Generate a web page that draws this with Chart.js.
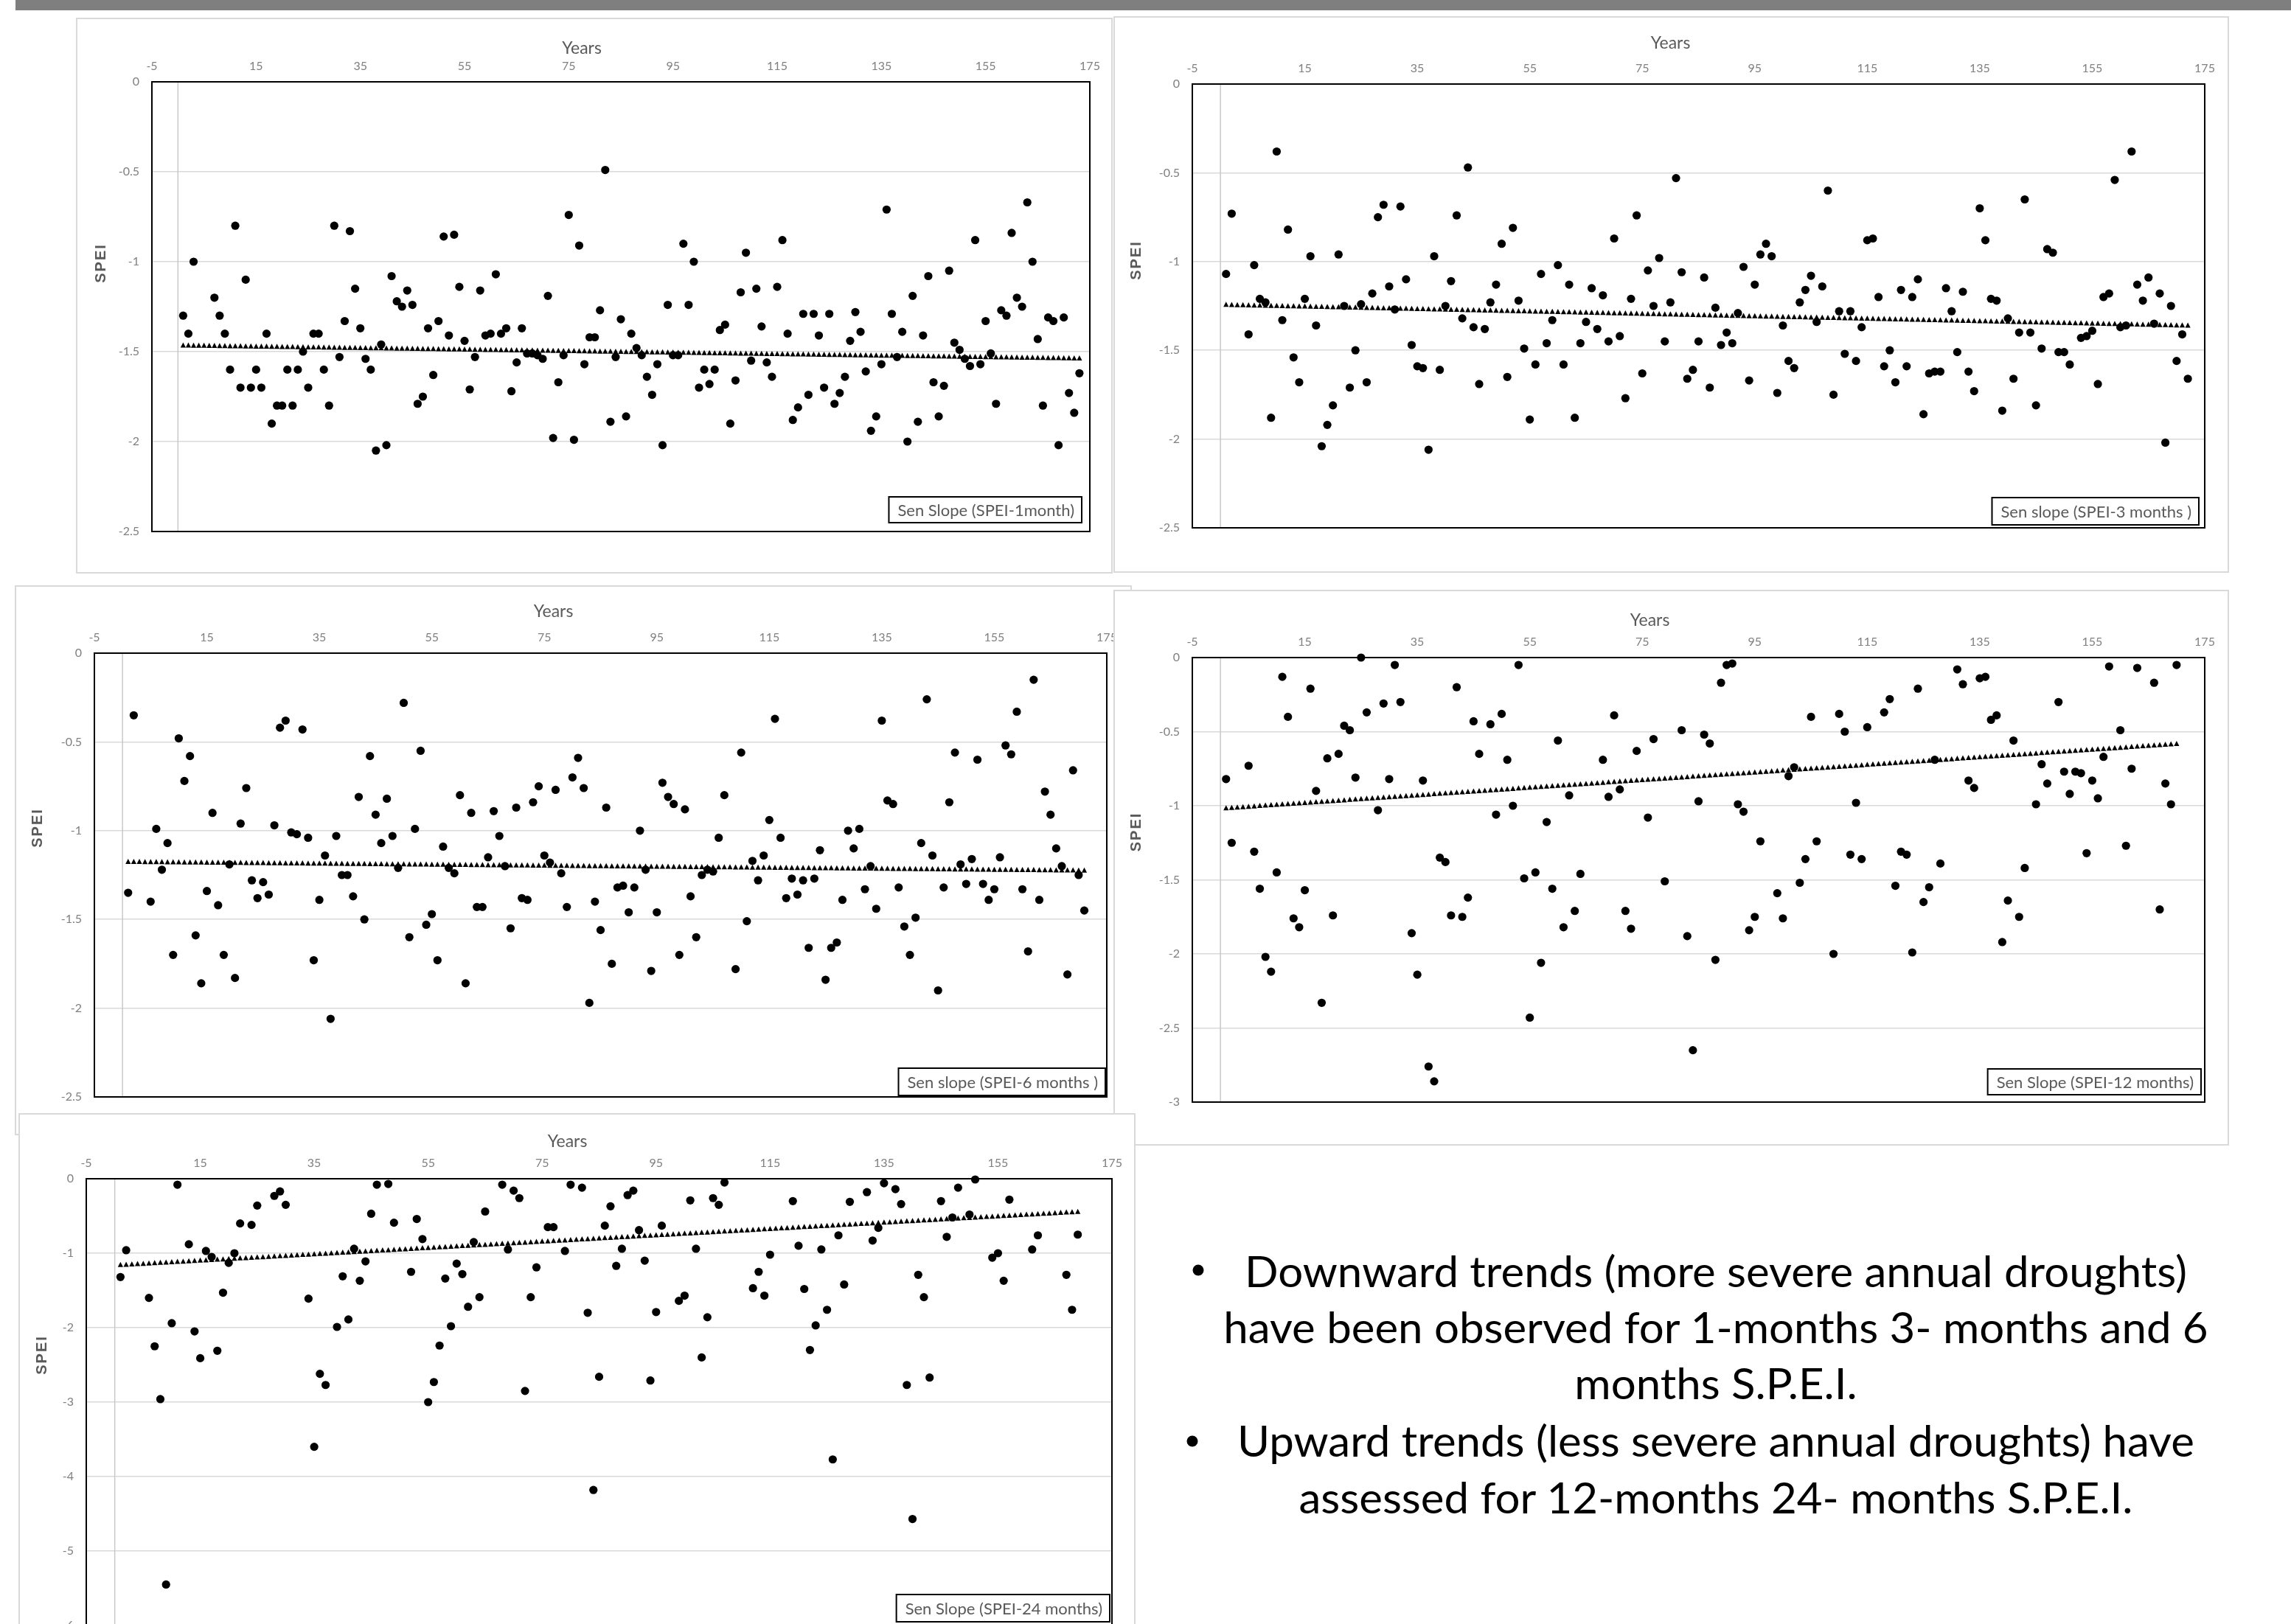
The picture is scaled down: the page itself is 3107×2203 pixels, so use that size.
<!DOCTYPE html>
<html>
<head>
<meta charset="utf-8">
<script src="https://cdn.jsdelivr.net/npm/chart.js@4.4.1/dist/chart.umd.min.js"></script>
<style>
  html, body { margin:0; padding:0; background:#fff; }
  body { width:3107px; height:2203px; overflow:hidden; position:relative; font-family:Lato, "Noto Sans", sans-serif; }
  .topbar { position:absolute; left:21px; top:0; width:3086px; height:14px; background:#7f7f7f; }
  .frame { position:absolute; background:#fff; box-shadow:inset 0 0 0 2px #d9d9d9; }
  .frame canvas { position:absolute; left:0; top:0; }
  .line { position:absolute; left:1577px; width:1500px; text-align:center; font-family:Lato, sans-serif; font-size:58px; line-height:80px; color:#000; white-space:nowrap; transform-origin:750px 40px; }
  .bullet { position:absolute; width:15px; height:15px; border-radius:50%; background:#000; transform:translate(-50%,-50%); }
</style>
</head>
<body>
<div class="topbar"></div>

<div class="frame" id="f1" style="left:103px;top:24px;width:1406px;height:754px;z-index:1"><canvas id="c1" width="1406" height="754"></canvas></div>
<div class="frame" id="f2" style="left:1510px;top:22px;width:1513px;height:755px;z-index:2"><canvas id="c2" width="1513" height="755"></canvas></div>
<div class="frame" id="f3" style="left:20px;top:794px;width:1515px;height:746px;z-index:3"><canvas id="c3" width="1515" height="746"></canvas></div>
<div class="frame" id="f4" style="left:1510px;top:800px;width:1513px;height:754px;z-index:4"><canvas id="c4" width="1513" height="754"></canvas></div>
<div class="frame" id="f5" style="left:25px;top:1510px;width:1515px;height:750px;z-index:5"><canvas id="c5" width="1515" height="750"></canvas></div>

<div class="bullet" style="left:1625px;top:1723px"></div>
<div class="line" style="top:1684px">Downward trends (more severe annual droughts)</div>
<div class="line" style="top:1760px">have been observed for 1-months 3- months and 6</div>
<div class="line" style="top:1836px">months S.P.E.I.</div>
<div class="bullet" style="left:1617px;top:1955px"></div>
<div class="line" style="top:1914px">Upward trends (less severe annual droughts) have</div>
<div class="line" style="top:1991px">assessed for 12-months 24- months S.P.E.I.</div>

<script>
// ---------- tick labels / titles ----------
const xTicks = [-5, 15, 35, 55, 75, 95, 115, 135, 155, 175];
const yTicksA = [0, -0.5, -1, -1.5, -2, -2.5];
const yTicksB = [0, -0.5, -1, -1.5, -2, -2.5, -3];
const yTicksC = [0, -1, -2, -3, -4, -5, -6];
const xTitle = 'Years';
const yTitle = 'SPEI';

// ---------- series: [year, SPEI] ----------
const spei1 = [[1,-1.30],[2,-1.40],[3,-1.00],[7,-1.20],[8,-1.30],[9,-1.40],[10,-1.60],
[11,-0.80],[12,-1.70],[13,-1.10],[14,-1.70],[15,-1.60],[16,-1.70],[17,-1.40],[18,-1.90],[19,-1.80],[20,-1.80],
[21,-1.60],[22,-1.80],[23,-1.60],[24,-1.50],[25,-1.70],[26,-1.40],[27,-1.40],[28,-1.60],[29,-1.80],[30,-0.80],
[31,-1.53],[32,-1.33],[33,-0.83],[34,-1.15],[35,-1.37],[36,-1.54],[37,-1.60],[38,-2.05],[39,-1.46],[40,-2.02],
[41,-1.08],[42,-1.22],[43,-1.25],[44,-1.16],[45,-1.24],[46,-1.79],[47,-1.75],[48,-1.37],[49,-1.63],[50,-1.33],
[51,-0.86],[52,-1.41],[53,-0.85],[54,-1.14],[55,-1.44],[56,-1.71],[57,-1.53],[58,-1.16],[59,-1.41],[60,-1.40],
[61,-1.07],[62,-1.40],[63,-1.37],[64,-1.72],[65,-1.56],[66,-1.37],[67,-1.51],[68,-1.51],[69,-1.52],[70,-1.54],
[71,-1.19],[72,-1.98],[73,-1.67],[74,-1.52],[75,-0.74],[76,-1.99],[77,-0.91],[78,-1.57],[79,-1.42],[80,-1.42],
[81,-1.27],[82,-0.49],[83,-1.89],[84,-1.53],[85,-1.32],[86,-1.86],[87,-1.40],[88,-1.48],[89,-1.52],[90,-1.64],
[91,-1.74],[92,-1.57],[93,-2.02],[94,-1.24],[95,-1.52],[96,-1.52],[97,-0.90],[98,-1.24],[99,-1.00],[100,-1.70],
[101,-1.60],[102,-1.68],[103,-1.60],[104,-1.38],[105,-1.35],[106,-1.90],[107,-1.66],[108,-1.17],[109,-0.95],[110,-1.55],
[111,-1.15],[112,-1.36],[113,-1.56],[114,-1.64],[115,-1.14],[116,-0.88],[117,-1.40],[118,-1.88],[119,-1.81],[120,-1.29],
[121,-1.74],[122,-1.29],[123,-1.41],[124,-1.70],[125,-1.29],[126,-1.79],[127,-1.73],[128,-1.64],[129,-1.44],[130,-1.28],
[131,-1.39],[132,-1.61],[133,-1.94],[134,-1.86],[135,-1.57],[136,-0.71],[137,-1.29],[138,-1.53],[139,-1.39],[140,-2.00],
[141,-1.19],[142,-1.89],[143,-1.41],[144,-1.08],[145,-1.67],[146,-1.86],[147,-1.69],[148,-1.05],[149,-1.45],[150,-1.49],
[151,-1.54],[152,-1.58],[153,-0.88],[154,-1.57],[155,-1.33],[156,-1.51],[157,-1.79],[158,-1.27],[159,-1.30],[160,-0.84],
[161,-1.20],[162,-1.25],[163,-0.67],[164,-1.00],[165,-1.43],[166,-1.80],[167,-1.31],[168,-1.33],[169,-2.02],[170,-1.31],
[171,-1.73],[172,-1.84],[173,-1.62]];

const spei3 = [[1,-1.07],[2,-0.73],[5,-1.41],[6,-1.02],[7,-1.21],[8,-1.23],[9,-1.88],[10,-0.38],
[11,-1.33],[12,-0.82],[13,-1.54],[14,-1.68],[15,-1.21],[16,-0.97],[17,-1.36],[18,-2.04],[19,-1.92],[20,-1.81],
[21,-0.96],[22,-1.25],[23,-1.71],[24,-1.50],[25,-1.24],[26,-1.68],[27,-1.18],[28,-0.75],[29,-0.68],[30,-1.14],
[31,-1.27],[32,-0.69],[33,-1.10],[34,-1.47],[35,-1.59],[36,-1.60],[37,-2.06],[38,-0.97],[39,-1.61],[40,-1.25],
[41,-1.11],[42,-0.74],[43,-1.32],[44,-0.47],[45,-1.37],[46,-1.69],[47,-1.38],[48,-1.23],[49,-1.13],[50,-0.90],
[51,-1.65],[52,-0.81],[53,-1.22],[54,-1.49],[55,-1.89],[56,-1.58],[57,-1.07],[58,-1.46],[59,-1.33],[60,-1.02],
[61,-1.58],[62,-1.13],[63,-1.88],[64,-1.46],[65,-1.34],[66,-1.15],[67,-1.38],[68,-1.19],[69,-1.45],[70,-0.87],
[71,-1.42],[72,-1.77],[73,-1.21],[74,-0.74],[75,-1.63],[76,-1.05],[77,-1.25],[78,-0.98],[79,-1.45],[80,-1.23],
[81,-0.53],[82,-1.06],[83,-1.66],[84,-1.61],[85,-1.45],[86,-1.09],[87,-1.71],[88,-1.26],[89,-1.47],[90,-1.40],
[91,-1.46],[92,-1.29],[93,-1.03],[94,-1.67],[95,-1.13],[96,-0.96],[97,-0.90],[98,-0.97],[99,-1.74],[100,-1.36],
[101,-1.56],[102,-1.60],[103,-1.23],[104,-1.16],[105,-1.08],[106,-1.34],[107,-1.14],[108,-0.60],[109,-1.75],[110,-1.28],
[111,-1.52],[112,-1.28],[113,-1.56],[114,-1.37],[115,-0.88],[116,-0.87],[117,-1.20],[118,-1.59],[119,-1.50],[120,-1.68],
[121,-1.16],[122,-1.59],[123,-1.20],[124,-1.10],[125,-1.86],[126,-1.63],[127,-1.62],[128,-1.62],[129,-1.15],[130,-1.28],
[131,-1.51],[132,-1.17],[133,-1.62],[134,-1.73],[135,-0.70],[136,-0.88],[137,-1.21],[138,-1.22],[139,-1.84],[140,-1.32],
[141,-1.66],[142,-1.40],[143,-0.65],[144,-1.40],[145,-1.81],[146,-1.49],[147,-0.93],[148,-0.95],[149,-1.51],[150,-1.51],
[151,-1.58],[153,-1.43],[154,-1.42],[155,-1.39],[156,-1.69],[157,-1.20],[158,-1.18],[159,-0.54],[160,-1.37],
[161,-1.36],[162,-0.38],[163,-1.13],[164,-1.22],[165,-1.09],[166,-1.35],[167,-1.18],[168,-2.02],[169,-1.25],[170,-1.56],
[171,-1.41],[172,-1.66]];

const spei6 = [[1,-1.35],[2,-0.35],[5,-1.40],[6,-0.99],[7,-1.22],[8,-1.07],[9,-1.70],[10,-0.48],
[11,-0.72],[12,-0.58],[13,-1.59],[14,-1.86],[15,-1.34],[16,-0.90],[17,-1.42],[18,-1.70],[19,-1.19],[20,-1.83],
[21,-0.96],[22,-0.76],[23,-1.28],[24,-1.38],[25,-1.29],[26,-1.36],[27,-0.97],[28,-0.42],[29,-0.38],[30,-1.01],
[31,-1.02],[32,-0.43],[33,-1.04],[34,-1.73],[35,-1.39],[36,-1.14],[37,-2.06],[38,-1.03],[39,-1.25],[40,-1.25],
[41,-1.37],[42,-0.81],[43,-1.50],[44,-0.58],[45,-0.91],[46,-1.07],[47,-0.82],[48,-1.03],[49,-1.21],[50,-0.28],
[51,-1.60],[52,-0.99],[53,-0.55],[54,-1.53],[55,-1.47],[56,-1.73],[57,-1.09],[58,-1.21],[59,-1.24],[60,-0.80],
[61,-1.86],[62,-0.90],[63,-1.43],[64,-1.43],[65,-1.15],[66,-0.89],[67,-1.03],[68,-1.20],[69,-1.55],[70,-0.87],
[71,-1.38],[72,-1.39],[73,-0.84],[74,-0.75],[75,-1.14],[76,-1.18],[77,-0.77],[78,-1.24],[79,-1.43],[80,-0.70],
[81,-0.59],[82,-0.76],[83,-1.97],[84,-1.40],[85,-1.56],[86,-0.87],[87,-1.75],[88,-1.32],[89,-1.31],[90,-1.46],
[91,-1.32],[92,-1.00],[93,-1.22],[94,-1.79],[95,-1.46],[96,-0.73],[97,-0.81],[98,-0.85],[99,-1.70],[100,-0.88],
[101,-1.37],[102,-1.60],[103,-1.25],[104,-1.22],[105,-1.23],[106,-1.04],[107,-0.80],[109,-1.78],[110,-0.56],
[111,-1.51],[112,-1.17],[113,-1.28],[114,-1.14],[115,-0.94],[116,-0.37],[117,-1.04],[118,-1.38],[119,-1.27],[120,-1.36],
[121,-1.28],[122,-1.66],[123,-1.27],[124,-1.11],[125,-1.84],[126,-1.66],[127,-1.63],[128,-1.39],[129,-1.00],[130,-1.10],
[131,-0.99],[132,-1.33],[133,-1.20],[134,-1.44],[135,-0.38],[136,-0.83],[137,-0.85],[138,-1.32],[139,-1.54],[140,-1.70],
[141,-1.49],[142,-1.07],[143,-0.26],[144,-1.14],[145,-1.90],[146,-1.32],[147,-0.84],[148,-0.56],[149,-1.19],[150,-1.30],
[151,-1.16],[152,-0.60],[153,-1.30],[154,-1.39],[155,-1.33],[156,-1.15],[157,-0.52],[158,-0.57],[159,-0.33],[160,-1.33],
[161,-1.68],[162,-0.15],[163,-1.39],[164,-0.78],[165,-0.91],[166,-1.10],[167,-1.20],[168,-1.81],[169,-0.66],[170,-1.25],
[171,-1.45]];

const spei12 = [[1,-0.82],[2,-1.25],[5,-0.73],[6,-1.31],[7,-1.56],[8,-2.02],[9,-2.12],[10,-1.45],
[11,-0.13],[12,-0.40],[13,-1.76],[14,-1.82],[15,-1.57],[16,-0.21],[17,-0.90],[18,-2.33],[19,-0.68],[20,-1.74],
[21,-0.65],[22,-0.46],[23,-0.49],[24,-0.81],[25,0.00],[26,-0.37],[28,-1.03],[29,-0.31],[30,-0.82],
[31,-0.05],[32,-0.30],[34,-1.86],[35,-2.14],[36,-0.83],[37,-2.76],[38,-2.86],[39,-1.35],[40,-1.38],
[41,-1.74],[42,-0.20],[43,-1.75],[44,-1.62],[45,-0.43],[46,-0.65],[48,-0.45],[49,-1.06],[50,-0.38],
[51,-0.69],[52,-1.00],[53,-0.05],[54,-1.49],[55,-2.43],[56,-1.45],[57,-2.06],[58,-1.11],[59,-1.56],[60,-0.56],
[61,-1.82],[62,-0.93],[63,-1.71],[64,-1.46],[68,-0.69],[69,-0.94],[70,-0.39],
[71,-0.89],[72,-1.71],[73,-1.83],[74,-0.63],[76,-1.08],[77,-0.55],[79,-1.51],
[82,-0.49],[83,-1.88],[84,-2.65],[85,-0.97],[86,-0.52],[87,-0.58],[88,-2.04],[89,-0.17],[90,-0.05],
[91,-0.04],[92,-0.99],[93,-1.04],[94,-1.84],[95,-1.75],[96,-1.24],[99,-1.59],[100,-1.76],
[101,-0.80],[102,-0.74],[103,-1.52],[104,-1.36],[105,-0.40],[106,-1.24],[109,-2.00],[110,-0.38],
[111,-0.50],[112,-1.33],[113,-0.98],[114,-1.36],[115,-0.47],[118,-0.37],[119,-0.28],[120,-1.54],
[121,-1.31],[122,-1.33],[123,-1.99],[124,-0.21],[125,-1.65],[126,-1.55],[127,-0.69],[128,-1.39],
[131,-0.08],[132,-0.18],[133,-0.83],[134,-0.88],[135,-0.14],[136,-0.13],[137,-0.42],[138,-0.39],[139,-1.92],[140,-1.64],
[141,-0.56],[142,-1.75],[143,-1.42],[145,-0.99],[146,-0.72],[147,-0.85],[149,-0.30],[150,-0.77],
[151,-0.92],[152,-0.77],[153,-0.78],[154,-1.32],[155,-0.83],[156,-0.95],[157,-0.67],[158,-0.06],[160,-0.49],
[161,-1.27],[162,-0.75],[163,-0.07],[166,-0.17],[167,-1.70],[168,-0.85],[169,-0.99],[170,-0.05]];

const spei24 = [[1,-1.32],[2,-0.96],[6,-1.60],[7,-2.25],[8,-2.96],[9,-5.45],[10,-1.94],
[11,-0.08],[13,-0.88],[14,-2.05],[15,-2.41],[16,-0.97],[17,-1.05],[18,-2.31],[19,-1.53],[20,-1.13],
[21,-1.00],[22,-0.60],[24,-0.62],[25,-0.36],[28,-0.23],[29,-0.17],[30,-0.35],
[34,-1.61],[35,-3.60],[36,-2.62],[37,-2.77],[39,-1.99],[40,-1.31],
[41,-1.89],[42,-0.94],[43,-1.37],[44,-1.11],[45,-0.47],[46,-0.08],[48,-0.07],[49,-0.59],
[52,-1.25],[53,-0.54],[54,-0.81],[55,-3.00],[56,-2.73],[57,-2.24],[58,-1.34],[59,-1.98],[60,-1.14],
[61,-1.28],[62,-1.72],[63,-0.85],[64,-1.59],[65,-0.44],[68,-0.08],[69,-0.95],[70,-0.16],
[71,-0.26],[72,-2.85],[73,-1.59],[74,-1.19],[76,-0.65],[77,-0.65],[79,-0.97],[80,-0.08],
[82,-0.12],[83,-1.80],[84,-4.18],[85,-2.66],[86,-0.63],[87,-0.37],[88,-1.17],[89,-0.94],[90,-0.22],
[91,-0.16],[92,-0.69],[93,-1.10],[94,-2.71],[95,-1.79],[96,-0.63],[99,-1.64],[100,-1.57],
[101,-0.29],[102,-0.94],[103,-2.40],[104,-1.86],[105,-0.26],[106,-0.35],[107,-0.05],
[112,-1.47],[113,-1.25],[114,-1.57],[115,-1.02],[119,-0.30],[120,-0.90],
[121,-1.48],[122,-2.30],[123,-1.97],[124,-0.95],[125,-1.76],[126,-3.77],[127,-0.76],[128,-1.42],[129,-0.31],
[132,-0.18],[133,-0.83],[134,-0.66],[135,-0.06],[137,-0.14],[138,-0.34],[139,-2.77],[140,-4.57],
[141,-1.29],[142,-1.59],[143,-2.67],[145,-0.30],[146,-0.78],[147,-0.52],[148,-0.12],[150,-0.48],
[151,-0.01],[154,-1.06],[155,-1.00],[156,-1.37],[157,-0.28],
[161,-0.95],[162,-0.76],[167,-1.29],[168,-1.76],[169,-0.75]];

// ---------- Sen slope trend lines (end points) ----------
const sen1 = [[1,-1.465],[173,-1.537]];
const sen3 = [[1,-1.243],[172,-1.360]];
const sen6 = [[1,-1.175],[171,-1.224]];
const sen12 = [[1,-1.016],[170,-0.582]];
const sen24 = [[1,-1.157],[169,-0.443]];

const legend1 = 'Sen Slope (SPEI-1month)';
const legend3 = 'Sen slope (SPEI-3 months )';
const legend6 = 'Sen slope (SPEI-6 months )';
const legend12 = 'Sen Slope (SPEI-12 months)';
const legend24 = 'Sen Slope (SPEI-24 months)';

// ---------- drawing ----------
const TICK_FONT = { family: 'Lato', size: 16 };

function decor(L) {
  return {
    id: 'decor',
    beforeDatasetsDraw(chart) {
      const { ctx, chartArea: a, scales } = chart;
      const px = scales.x.getPixelForValue(0);
      ctx.save();
      ctx.strokeStyle = '#c8c8c8';
      ctx.lineWidth = 1.5;
      ctx.beginPath();
      ctx.moveTo(px, a.top);
      ctx.lineTo(px, a.bottom);
      ctx.stroke();
      ctx.restore();
    },
    afterDatasetsDraw(chart) {
      const { ctx, chartArea: a } = chart;
      const ds = chart.data.datasets[1];
      const meta = chart.getDatasetMeta(1);
      const p0 = meta.data[0], p1 = meta.data[meta.data.length - 1];
      const v0 = ds.data[0].x, v1 = ds.data[ds.data.length - 1].x;
      ctx.save();
      // trend line drawn with the triangle marker pattern of the original
      ctx.fillStyle = '#000';
      for (let v = v0; v <= v1 + 1e-9; v += 1) {
        const t = (v - v0) / (v1 - v0);
        const cx = p0.x + t * (p1.x - p0.x);
        const cy = p0.y + t * (p1.y - p0.y);
        ctx.beginPath();
        ctx.moveTo(cx, cy - 4);
        ctx.lineTo(cx + 3.6, cy + 3);
        ctx.lineTo(cx - 3.6, cy + 3);
        ctx.closePath();
        ctx.fill();
      }
      // plot border
      ctx.strokeStyle = '#000';
      ctx.lineWidth = 2;
      ctx.strokeRect(a.left, a.top, a.right - a.left, a.bottom - a.top);
      // legend box
      ctx.font = '22px Lato';
      const tw = ctx.measureText(ds.label).width;
      const bw = tw + 22, bh = L.legH;
      const bx = a.right - L.legR - bw, by = a.bottom - L.legB - bh;
      ctx.fillStyle = '#fff';
      ctx.fillRect(bx, by, bw, bh);
      ctx.strokeStyle = '#000';
      ctx.lineWidth = 2;
      ctx.strokeRect(bx, by, bw, bh);
      ctx.fillStyle = '#595959';
      ctx.textAlign = 'left';
      ctx.textBaseline = 'middle';
      ctx.fillText(ds.label, bx + 12, by + bh / 2 + 1);
      // axis titles
      ctx.font = '23px Lato';
      ctx.textAlign = 'center';
      ctx.fillText(xTitle, (a.left + a.right) / 2 + L.yrDX, a.top + L.yrDY);
      ctx.translate(a.left + L.spDX, (a.top + a.bottom) / 2 + L.spDY);
      ctx.rotate(-Math.PI / 2);
      ctx.font = 'bold 20px "Liberation Sans"';
      ctx.letterSpacing = '2px';
      ctx.fillText(yTitle, 0, 0);
      ctx.restore();
    }
  };
}

function makeChart(id, pts, trend, yT, label, L) {
  const yMin = Math.min(...yT);
  const yMax = Math.max(...yT);
  return new Chart(document.getElementById(id), {
    type: 'scatter',
    data: {
      datasets: [
        { label: 'SPEI', data: pts.map(p => ({ x: p[0], y: p[1] })),
          pointRadius: 5.6, pointHoverRadius: 5.6, backgroundColor: '#000', borderColor: '#000', borderWidth: 0, clip: false },
        { type: 'line', label: label, data: trend.map(p => ({ x: p[0], y: p[1] })),
          showLine: false, pointRadius: 0, pointHoverRadius: 0, borderWidth: 0, clip: false }
      ]
    },
    options: {
      responsive: false, animation: false, devicePixelRatio: 1, events: [],
      layout: { padding: { left: L.padL, top: L.padT, right: L.padR, bottom: L.padB } },
      plugins: { legend: { display: false }, tooltip: { enabled: false }, title: { display: false } },
      scales: {
        x: {
          type: 'linear', position: 'top', min: -5, max: 175,
          afterBuildTicks: s => { s.ticks = xTicks.map(v => ({ value: v })); },
          afterFit: s => { s.height = 40; },
          grid: { display: false, drawTicks: false },
          border: { display: false },
          ticks: { padding: 12, color: '#808080', font: TICK_FONT, maxRotation: 0, autoSkip: false,
                   callback: v => String(v) }
        },
        y: {
          type: 'linear', min: yMin, max: yMax,
          afterBuildTicks: s => { s.ticks = yT.map(v => ({ value: v })); },
          afterFit: s => { s.width = 60; },
          grid: { color: '#d9d9d9', lineWidth: 1.5, drawTicks: false },
          border: { display: false },
          ticks: { padding: 17, color: '#808080', font: TICK_FONT, autoSkip: false,
                   callback: v => String(Number(Number(v).toFixed(2))) }
        }
      }
    },
    plugins: [decor(L)]
  });
}

makeChart('c1', spei1, sen1, yTicksA, legend1,
  { padL: 43, padT: 47, padR: 31, padB: 57, legR: 11, legB: 12, legH: 35, yrDX: -53, yrDY: -45, spDX: -69, spDY: -59 });
makeChart('c2', spei3, sen3, yTicksA, legend3,
  { padL: 47, padT: 52, padR: 33, padB: 61, legR: 8, legB: 4, legH: 37, yrDX: -38, yrDY: -55, spDX: -76, spDY: -62 });
makeChart('c3', spei6, sen6, yTicksA, legend6,
  { padL: 48, padT: 52, padR: 34, padB: 52, legR: 2, legB: 2, legH: 37, yrDX: -64, yrDY: -56, spDX: -77, spDY: -64 });
makeChart('c4', spei12, sen12, yTicksB, legend12,
  { padL: 47, padT: 52, padR: 33, padB: 59, legR: 5, legB: 10, legH: 35, yrDX: -66, yrDY: -50, spDX: -76, spDY: -65 });
makeChart('c5', spei24, sen24, yTicksC, legend24,
  { padL: 32, padT: 49, padR: 32, padB: 55, legR: 3, legB: 5, legH: 37, yrDX: -43, yrDY: -50, spDX: -60, spDY: -64 });

// fit the note text to the width of the original paragraph
(function fitNotes() {
  const lines = document.querySelectorAll('.line');
  const probe = document.createElement('span');
  probe.textContent = lines[0].textContent;
  probe.style.cssText = 'position:absolute;visibility:hidden;white-space:nowrap;font-family:Lato,sans-serif;font-size:58px;';
  document.body.appendChild(probe);
  const s = 1278 / probe.getBoundingClientRect().width;
  probe.remove();
  lines.forEach(l => { l.style.transform = 'scaleX(' + s.toFixed(4) + ')'; });
})();
</script>
</body>
</html>
